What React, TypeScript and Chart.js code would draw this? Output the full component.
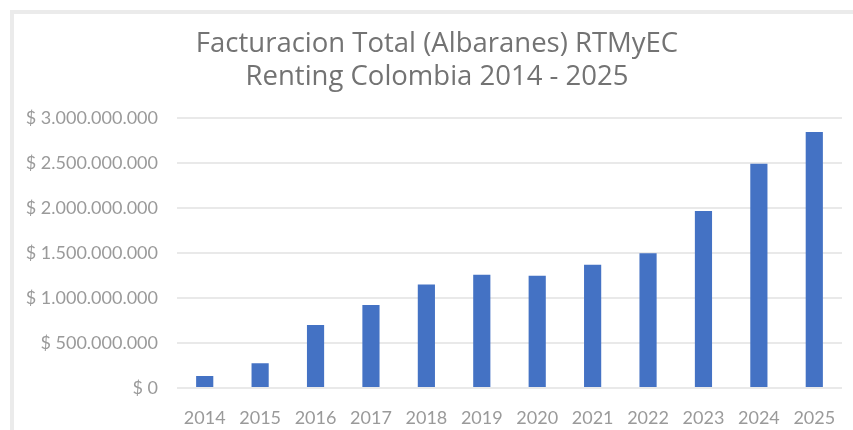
import React, { useEffect, useRef } from "react";
import { Chart, registerables } from "chart.js";

Chart.register(...registerables);

const years = ["2014", "2015", "2016", "2017", "2018", "2019", "2020", "2021", "2022", "2023", "2024", "2025"];
const billing = [133000000, 275000000, 700000000, 920000000, 1150000000, 1258000000, 1245000000, 1368000000, 1495000000, 1965000000, 2490000000, 2840000000];
const titleLines = ["Facturacion Total (Albaranes) RTMyEC", "Renting Colombia 2014 - 2025"];
const yMax = 3000000000;
const yStep = 500000000;

function fmt(v: number): string {
  return "$ " + String(Math.round(v)).replace(/\B(?=(\d{3})+(?!\d))/g, ".");
}

const shiftTitle = {
  id: "shiftTitle",
  afterLayout(chart: any) {
    if (chart.titleBlock) {
      chart.titleBlock.left = 32;
    }
  },
};

export default function App() {
  const ref = useRef<HTMLCanvasElement | null>(null);
  useEffect(() => {
    document.body.style.margin = "0";
    const ctx = ref.current!.getContext("2d")!;
    const chart = new Chart(ctx, {
      type: "bar",
      data: {
        labels: years,
        datasets: [
          {
            data: billing,
            backgroundColor: "#4472c4",
            borderWidth: 0,
            barPercentage: 0.31,
            categoryPercentage: 1,
          },
        ],
      },
      options: {
        animation: false,
        responsive: false,
        layout: { padding: { left: 0, right: 11, top: 0, bottom: 0 } },
        plugins: {
          legend: { display: false },
          tooltip: { enabled: false },
          title: {
            display: true,
            text: titleLines,
            color: "#737373",
            font: { family: "Open Sans", size: 27.5, weight: "normal", lineHeight: 1.22 },
            padding: { top: 27, bottom: 23.6 },
          },
        },
        scales: {
          x: {
            grid: { display: false },
            border: { display: false },
            ticks: {
              color: "#9a9a9a",
              font: { family: "Lato", size: 18 },
              padding: 11,
              maxRotation: 0,
            },
            afterFit: (s: any) => {
              s.height = 42;
            },
          },
          y: {
            min: 0,
            max: yMax,
            border: { display: false },
            grid: { color: "#e9e9e9", lineWidth: 2, drawTicks: false },
            ticks: {
              stepSize: yStep,
              color: "#9a9a9a",
              font: { family: "Lato", size: 18 },
              padding: 19,
              callback: (v: any) => fmt(Number(v)),
            },
            afterFit: (s: any) => {
              s.width = 177;
            },
          },
        },
      },
      plugins: [shiftTitle],
    });
    return () => chart.destroy();
  }, []);
  return (
    <div style={{ position: "fixed", left: 0, top: 0, width: 853, height: 430, overflow: "hidden", background: "#fff" }}>
      <div
        style={{
          position: "absolute",
          left: 10,
          top: 10,
          width: 900,
          height: 500,
          borderLeft: "4px solid #ebebeb",
          borderTop: "4px solid #ebebeb",
        }}
      />
      <canvas ref={ref} width={853} height={430} style={{ position: "absolute", left: 0, top: 0 }} />
    </div>
  );
}
